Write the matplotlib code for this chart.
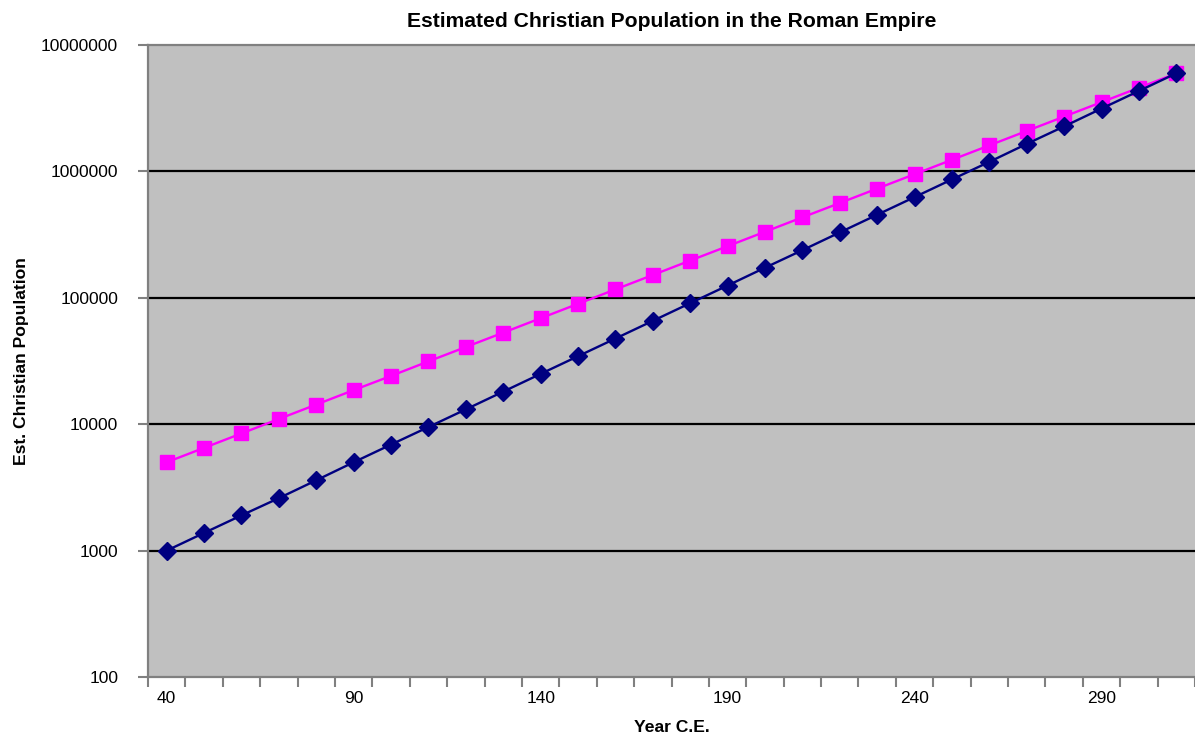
import numpy as np
import matplotlib.pyplot as plt

plt.rcParams['font.family'] = ['Liberation Sans', 'DejaVu Sans']

# years (category axis)
years = [40, 50, 60, 70, 80, 90, 100, 110, 120, 130, 140, 150, 160, 170,
         180, 190, 200, 210, 220, 230, 240, 250, 260, 270, 280, 290, 300, 310]

# navy series (diamonds)
low_est = [1000, 1380, 1900, 2600, 3600, 5000, 6900, 9500, 13100, 18100,
           25000, 34500, 47600, 65700, 90700, 125000, 173000, 238000, 329000,
           454000, 626000, 864000, 1190000, 1650000, 2270000, 3140000,
           4330000, 5970000]

# magenta series (squares)
high_est = [5000, 6500, 8450, 11000, 14300, 18600, 24100, 31400, 40800,
            53000, 68900, 89600, 116500, 151500, 197000, 256000, 333000,
            433000, 562000, 731000, 950000, 1235000, 1606000, 2088000,
            2714000, 3530000, 4590000, 5960000]

x = np.arange(len(years))

fig = plt.figure(figsize=(11.95, 7.40), dpi=100)
ax = fig.add_axes([148 / 1195, 1 - 677 / 740, 1 - 148 / 1195, (677 - 45) / 740])
ax.set_facecolor('#C0C0C0')

ax.set_yscale('log')
ax.set_ylim(100, 10000000)
ax.set_xlim(-0.5, len(years) - 0.5)

for yv in [1000, 10000, 100000, 1000000]:
    ax.axhline(yv, color='black', lw=1.6, zorder=1)

ax.plot(x, high_est, color='#FF00FF', marker='s', markersize=9.5, lw=1.7, zorder=3)
ax.plot(x, low_est, color='#000080', marker='D', markersize=9.5, lw=1.7, zorder=4)

# y ticks
ax.set_yticks([100, 1000, 10000, 100000, 1000000, 10000000])
ax.set_yticklabels(['100', '1000', '10000', '100000', '1000000', '10000000'])
ax.yaxis.set_minor_locator(plt.NullLocator())
ax.tick_params(axis='y', which='major', length=7, width=1.5, color='#808080',
               labelsize=12.5, pad=14.5)

# x ticks: labels on every 5th category, tick marks between categories
lab_idx = list(range(0, len(years), 5))
ax.set_xticks(lab_idx)
ax.set_xticklabels([str(years[i]) for i in lab_idx])
ax.set_xticks(np.arange(-0.5, len(years), 1), minor=True)
ax.tick_params(axis='x', which='major', length=0, labelsize=12.5, pad=10)
ax.tick_params(axis='x', which='minor', length=7, width=1.5, color='#808080')

for s in ['left', 'bottom', 'top']:
    ax.spines[s].set_color('#808080')
    ax.spines[s].set_linewidth(1.6)
ax.spines['right'].set_visible(False)

ax.set_title('Estimated Christian Population in the Roman Empire',
             fontsize=15.2, fontweight='bold', pad=13)
ax.set_xlabel('Year C.E.', fontsize=12.6, fontweight='bold', labelpad=10)
ax.set_ylabel('Est. Christian Population', fontsize=12.6, fontweight='bold', labelpad=9)

fig.savefig('out.png', dpi=100)
